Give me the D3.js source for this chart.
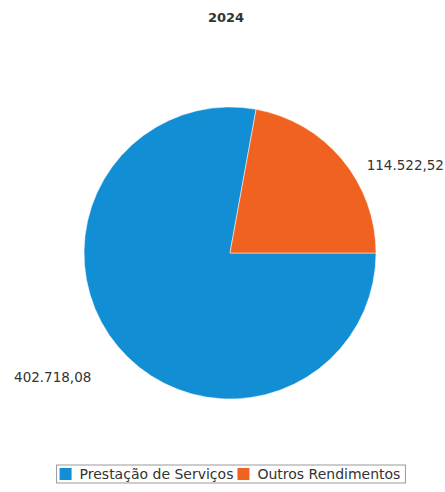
<!DOCTYPE html>
<html>
<head>
<meta charset="utf-8">
<script src="https://cdn.jsdelivr.net/npm/d3@7"></script>
<style>
  body { margin: 0; background: #fff; }
  text { font-family: "DejaVu Sans", sans-serif; }
</style>
</head>
<body>
<div id="wrapper"></div>
<script>
// Dados do gráfico
const title = "2024";
const categories = ["Prestação de Serviços", "Outros Rendimentos"];
const values = [402718.08, 114522.52];
const colors = ["#128ed4", "#f0621f"];

const fmt = v => d3.format(",.2f")(v).replace(/,/g, "#").replace(".", ",").replace(/#/g, ".");

function draw() {
  const dimensions = { width: 445, height: 492, cx: 230, cy: 253, radius: 146 };

  const svg = d3.select("#wrapper")
    .append("svg")
    .attr("width", dimensions.width)
    .attr("height", dimensions.height);

  // Título
  svg.append("text")
    .attr("x", 226)
    .attr("y", 22)
    .attr("text-anchor", "middle")
    .attr("font-size", 13)
    .attr("font-weight", "bold")
    .attr("fill", "#333")
    .text(title);

  const data = categories.map((c, i) => ({ name: c, value: values[i], color: colors[i] }));

  const pie = d3.pie()
    .sort(null)
    .value(d => d.value)
    .startAngle(Math.PI / 2)
    .endAngle(Math.PI / 2 + 2 * Math.PI);

  const arc = d3.arc().innerRadius(0).outerRadius(dimensions.radius);
  const labelArc = d3.arc().innerRadius(165).outerRadius(165);

  const g = svg.append("g")
    .attr("transform", "translate(" + dimensions.cx + "," + dimensions.cy + ")");

  const arcs = pie(data);

  g.selectAll("path")
    .data(arcs)
    .enter()
    .append("path")
    .attr("d", arc)
    .attr("fill", d => d.data.color)
    .attr("stroke", "#fff")
    .attr("stroke-width", 0.5);

  // Rótulos de valores
  g.selectAll("text.label")
    .data(arcs)
    .enter()
    .append("text")
    .attr("class", "label")
    .each(function (d) {
      const [x, y] = labelArc.centroid(d);
      const right = x > 0;
      d3.select(this)
        .attr("x", x + (right ? 10 : -12))
        .attr("y", y + 23)
        .attr("text-anchor", right ? "start" : "end");
    })
    .attr("font-size", 13.5)
    .attr("fill", "#333")
    .text(d => fmt(d.data.value));

  // Legenda
  const legend = svg.append("g");
  const items = legend.selectAll("g")
    .data(data)
    .enter()
    .append("g");
  items.append("rect")
    .attr("width", 12)
    .attr("height", 12)
    .attr("fill", d => d.color);
  items.append("text")
    .attr("x", 20)
    .attr("y", 11)
    .attr("font-size", 14)
    .attr("fill", "#333")
    .text(d => d.name);

  let offset = 0;
  items.each(function () {
    d3.select(this).attr("transform", "translate(" + offset + ",0)");
    offset += this.getBBox().width + 4;
  });
  const totalW = offset - 4;
  const lx = dimensions.cx - totalW / 2;
  legend.attr("transform", "translate(" + lx + ",468)");
  legend.insert("rect", ":first-child")
    .attr("x", -3)
    .attr("y", -3)
    .attr("width", totalW + 8)
    .attr("height", 18)
    .attr("fill", "#fff")
    .attr("stroke", "#999")
    .attr("stroke-width", 1);
}
draw();
</script>
</body>
</html>
